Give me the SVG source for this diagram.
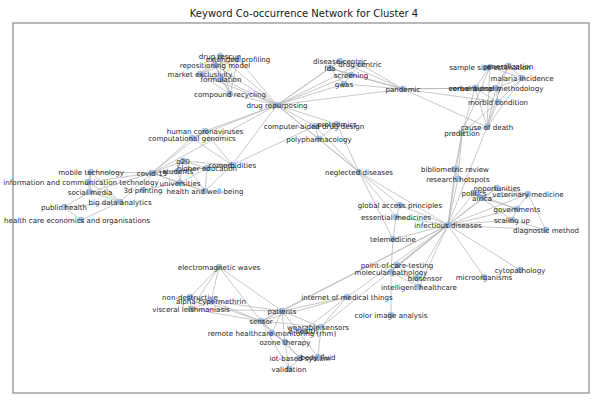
<svg xmlns="http://www.w3.org/2000/svg" width="599" height="403" viewBox="0 0 599 403">
<style>
  .bg { fill: #ffffff; }
  .frame { fill: none; stroke: #8a8a8a; stroke-width: 1.2; }
  .title { font-family: "DejaVu Sans", "Liberation Sans", sans-serif; font-size: 10px; fill: #1a1a1a; text-anchor: middle; }
  #edges line { stroke: #b2b2b2; stroke-width: 0.8; stroke-opacity: 0.9; }
  .node circle { fill: #7fa9dd; fill-opacity: 0.7; }
  .node text { font-family: "DejaVu Sans", "Liberation Sans", sans-serif; font-size: 7.1px; fill: #1e1e1e; text-anchor: middle; dominant-baseline: central; }
</style>
<rect class="bg" x="0" y="0" width="599" height="403"/>
<text class="title" x="304" y="17">Keyword Co-occurrence Network for Cluster 4</text>
<rect class="frame" x="13" y="23" width="576" height="370"/>

<g id="edges">
  <!-- drug repositioning cluster -->
  <line x1="220" y1="56" x2="238" y2="59"/><line x1="220" y1="56" x2="215" y2="65"/><line x1="220" y1="56" x2="200" y2="74"/>
  <line x1="220" y1="56" x2="221" y2="79"/><line x1="220" y1="56" x2="230" y2="94"/><line x1="238" y1="59" x2="215" y2="65"/>
  <line x1="238" y1="59" x2="200" y2="74"/><line x1="238" y1="59" x2="221" y2="79"/><line x1="238" y1="59" x2="230" y2="94"/>
  <line x1="215" y1="65" x2="200" y2="74"/><line x1="215" y1="65" x2="221" y2="79"/><line x1="215" y1="65" x2="230" y2="94"/>
  <line x1="200" y1="74" x2="221" y2="79"/><line x1="200" y1="74" x2="230" y2="94"/><line x1="221" y1="79" x2="230" y2="94"/>
  <line x1="220" y1="56" x2="277" y2="105"/><line x1="238" y1="59" x2="277" y2="105"/><line x1="215" y1="65" x2="277" y2="105"/>
  <line x1="200" y1="74" x2="277" y2="105"/><line x1="221" y1="79" x2="277" y2="105"/><line x1="230" y1="94" x2="277" y2="105"/>
  <!-- drug repurposing to screening cluster and pandemic -->
  <line x1="277" y1="105" x2="340" y2="61"/><line x1="277" y1="105" x2="360" y2="64"/><line x1="277" y1="105" x2="330" y2="68"/>
  <line x1="277" y1="105" x2="351" y2="75"/><line x1="277" y1="105" x2="344" y2="84"/><line x1="277" y1="105" x2="403" y2="89"/>
  <line x1="403" y1="89" x2="340" y2="61"/><line x1="403" y1="89" x2="360" y2="64"/><line x1="403" y1="89" x2="330" y2="68"/>
  <line x1="403" y1="89" x2="351" y2="75"/><line x1="403" y1="89" x2="344" y2="84"/>
  <line x1="340" y1="61" x2="360" y2="64"/><line x1="340" y1="61" x2="330" y2="68"/><line x1="330" y1="68" x2="351" y2="75"/>
  <line x1="351" y1="75" x2="344" y2="84"/><line x1="360" y1="64" x2="351" y2="75"/><line x1="330" y1="68" x2="344" y2="84"/>
  <!-- pandemic to mortality cluster -->
  <line x1="403" y1="89" x2="475" y2="88"/><line x1="403" y1="89" x2="496" y2="88"/><line x1="403" y1="89" x2="487" y2="127"/>
  <line x1="403" y1="89" x2="498" y2="102"/>
  <line x1="490" y1="67" x2="508" y2="66"/><line x1="490" y1="67" x2="522" y2="78"/><line x1="508" y1="66" x2="522" y2="78"/>
  <line x1="475" y1="88" x2="496" y2="88"/><line x1="522" y1="78" x2="496" y2="88"/><line x1="522" y1="78" x2="498" y2="102"/>
  <line x1="496" y1="88" x2="498" y2="102"/><line x1="475" y1="88" x2="498" y2="102"/><line x1="490" y1="67" x2="475" y2="88"/>
  <line x1="508" y1="66" x2="496" y2="88"/>
  <line x1="487" y1="127" x2="490" y2="67"/><line x1="487" y1="127" x2="508" y2="66"/><line x1="487" y1="127" x2="522" y2="78"/>
  <line x1="487" y1="127" x2="475" y2="88"/><line x1="487" y1="127" x2="496" y2="88"/><line x1="487" y1="127" x2="498" y2="102"/>
  <line x1="462" y1="133" x2="490" y2="67"/><line x1="462" y1="133" x2="498" y2="102"/><line x1="462" y1="133" x2="487" y2="127"/>
  <line x1="462" y1="133" x2="475" y2="88"/>
  <line x1="462" y1="133" x2="448" y2="225"/><line x1="487" y1="127" x2="448" y2="225"/>
  <line x1="462" y1="133" x2="455" y2="169"/><line x1="462" y1="133" x2="458" y2="179"/>
  <!-- drug design and neglected diseases -->
  <line x1="277" y1="105" x2="315" y2="126"/><line x1="277" y1="105" x2="337" y2="124"/><line x1="277" y1="105" x2="319" y2="139"/>
  <line x1="277" y1="105" x2="359" y2="172"/><line x1="315" y1="126" x2="337" y2="124"/><line x1="315" y1="126" x2="319" y2="139"/>
  <line x1="337" y1="124" x2="319" y2="139"/><line x1="315" y1="126" x2="359" y2="172"/><line x1="337" y1="124" x2="359" y2="172"/>
  <line x1="319" y1="139" x2="359" y2="172"/>
  <!-- drug repurposing to covid-19 cluster -->
  <line x1="277" y1="105" x2="205" y2="131"/><line x1="277" y1="105" x2="192" y2="138"/><line x1="277" y1="105" x2="152" y2="173"/>
  <line x1="277" y1="105" x2="232" y2="165"/><line x1="205" y1="131" x2="192" y2="138"/><line x1="205" y1="131" x2="152" y2="173"/>
  <line x1="192" y1="138" x2="152" y2="173"/><line x1="205" y1="131" x2="232" y2="165"/><line x1="192" y1="138" x2="232" y2="165"/>
  <line x1="315" y1="126" x2="232" y2="165"/>
  <line x1="152" y1="173" x2="183" y2="161"/><line x1="152" y1="173" x2="178" y2="171"/><line x1="152" y1="173" x2="207" y2="168"/>
  <line x1="152" y1="173" x2="180" y2="183"/><line x1="152" y1="173" x2="205" y2="191"/><line x1="152" y1="173" x2="143" y2="190"/>
  <line x1="152" y1="173" x2="232" y2="165"/><line x1="152" y1="173" x2="91" y2="172"/><line x1="152" y1="173" x2="88" y2="182"/>
  <line x1="152" y1="173" x2="90" y2="192"/><line x1="152" y1="173" x2="120" y2="202"/>
  <line x1="183" y1="161" x2="207" y2="168"/><line x1="183" y1="161" x2="180" y2="183"/><line x1="183" y1="161" x2="205" y2="191"/>
  <line x1="207" y1="168" x2="180" y2="183"/><line x1="207" y1="168" x2="205" y2="191"/><line x1="180" y1="183" x2="205" y2="191"/>
  <line x1="178" y1="171" x2="180" y2="183"/><line x1="178" y1="171" x2="207" y2="168"/><line x1="232" y1="165" x2="207" y2="168"/>
  <line x1="232" y1="165" x2="205" y2="191"/><line x1="183" y1="161" x2="232" y2="165"/><line x1="180" y1="183" x2="143" y2="190"/>
  <line x1="91" y1="172" x2="88" y2="182"/><line x1="91" y1="172" x2="90" y2="192"/><line x1="88" y1="182" x2="90" y2="192"/>
  <line x1="90" y1="192" x2="120" y2="202"/><line x1="88" y1="182" x2="120" y2="202"/><line x1="90" y1="192" x2="64" y2="207"/>
  <line x1="64" y1="207" x2="81" y2="220"/><line x1="120" y1="202" x2="81" y2="220"/><line x1="120" y1="202" x2="64" y2="207"/>
  <line x1="91" y1="172" x2="120" y2="202"/>
  <!-- neglected and infectious diseases -->
  <line x1="359" y1="172" x2="448" y2="225"/><line x1="359" y1="172" x2="400" y2="205"/><line x1="359" y1="172" x2="396" y2="217"/>
  <line x1="359" y1="172" x2="393" y2="239"/><line x1="448" y1="225" x2="400" y2="205"/><line x1="448" y1="225" x2="396" y2="217"/>
  <line x1="448" y1="225" x2="393" y2="239"/><line x1="400" y1="205" x2="396" y2="217"/><line x1="396" y1="217" x2="393" y2="239"/>
  <line x1="448" y1="225" x2="455" y2="169"/><line x1="448" y1="225" x2="458" y2="179"/><line x1="448" y1="225" x2="497" y2="188"/>
  <line x1="448" y1="225" x2="474" y2="193"/><line x1="448" y1="225" x2="482" y2="198"/><line x1="448" y1="225" x2="528" y2="194"/>
  <line x1="448" y1="225" x2="517" y2="209"/><line x1="448" y1="225" x2="512" y2="220"/><line x1="448" y1="225" x2="546" y2="230"/>
  <line x1="448" y1="225" x2="484" y2="277"/><line x1="448" y1="225" x2="520" y2="270"/><line x1="448" y1="225" x2="391" y2="272"/>
  <line x1="448" y1="225" x2="397" y2="265"/><line x1="448" y1="225" x2="417" y2="278"/><line x1="448" y1="225" x2="419" y2="287"/>
  <line x1="448" y1="225" x2="347" y2="297"/><line x1="448" y1="225" x2="282" y2="311"/><line x1="448" y1="225" x2="261" y2="321"/>
  <line x1="448" y1="225" x2="321" y2="327"/>
  <line x1="455" y1="169" x2="458" y2="179"/><line x1="497" y1="188" x2="474" y2="193"/><line x1="497" y1="188" x2="482" y2="198"/>
  <line x1="474" y1="193" x2="482" y2="198"/><line x1="497" y1="188" x2="528" y2="194"/><line x1="482" y1="198" x2="528" y2="194"/>
  <line x1="474" y1="193" x2="517" y2="209"/><line x1="482" y1="198" x2="517" y2="209"/><line x1="517" y1="209" x2="512" y2="220"/>
  <line x1="482" y1="198" x2="512" y2="220"/><line x1="528" y1="194" x2="546" y2="230"/><line x1="528" y1="194" x2="517" y2="209"/>
  <line x1="512" y1="220" x2="546" y2="230"/>
  <!-- diagnostics -->
  <line x1="393" y1="239" x2="391" y2="272"/><line x1="397" y1="265" x2="391" y2="272"/><line x1="391" y1="272" x2="391" y2="315"/>
  <line x1="391" y1="272" x2="417" y2="278"/><line x1="391" y1="272" x2="419" y2="287"/><line x1="417" y1="278" x2="419" y2="287"/>
  <line x1="397" y1="265" x2="419" y2="287"/>
  <line x1="347" y1="297" x2="282" y2="311"/><line x1="347" y1="297" x2="261" y2="321"/><line x1="347" y1="297" x2="321" y2="327"/>
  <line x1="347" y1="297" x2="303" y2="331"/>
  <!-- sensing cluster -->
  <line x1="219" y1="267" x2="190" y2="297"/><line x1="219" y1="267" x2="211" y2="301"/><line x1="219" y1="267" x2="191" y2="309"/>
  <line x1="219" y1="267" x2="261" y2="321"/><line x1="219" y1="267" x2="282" y2="311"/><line x1="190" y1="297" x2="211" y2="301"/>
  <line x1="190" y1="297" x2="191" y2="309"/><line x1="211" y1="301" x2="191" y2="309"/><line x1="190" y1="297" x2="261" y2="321"/>
  <line x1="211" y1="301" x2="261" y2="321"/><line x1="191" y1="309" x2="261" y2="321"/><line x1="191" y1="309" x2="282" y2="311"/>
  <line x1="211" y1="301" x2="282" y2="311"/>
  <line x1="261" y1="321" x2="282" y2="311"/><line x1="261" y1="321" x2="321" y2="327"/><line x1="261" y1="321" x2="272" y2="333"/>
  <line x1="261" y1="321" x2="285" y2="342"/><line x1="261" y1="321" x2="300" y2="358"/><line x1="261" y1="321" x2="289" y2="369"/>
  <line x1="282" y1="311" x2="321" y2="327"/><line x1="282" y1="311" x2="285" y2="342"/><line x1="282" y1="311" x2="318" y2="357"/>
  <line x1="282" y1="311" x2="272" y2="333"/><line x1="321" y1="327" x2="318" y2="357"/><line x1="300" y1="358" x2="318" y2="357"/>
  <line x1="300" y1="358" x2="289" y2="369"/><line x1="285" y1="342" x2="289" y2="369"/><line x1="285" y1="342" x2="300" y2="358"/>
  <line x1="321" y1="327" x2="303" y2="331"/><line x1="272" y1="333" x2="285" y2="342"/>
</g>

<g id="n-drug-rescue" class="node"><circle cx="220" cy="56" r="3.3"/><text x="220" y="56">drug rescue</text></g>
<g id="n-extended-profiling" class="node"><circle cx="238" cy="59" r="3.3"/><text x="238" y="59">extended profiling</text></g>
<g id="n-repositioning-model" class="node"><circle cx="215" cy="65" r="3.3"/><text x="215" y="65">repositioning model</text></g>
<g id="n-market-exclusivity" class="node"><circle cx="200" cy="74" r="3.3"/><text x="200" y="74">market exclusivity</text></g>
<g id="n-formulation" class="node"><circle cx="221" cy="79" r="3.3"/><text x="221" y="79">formulation</text></g>
<g id="n-compound-recycling" class="node"><circle cx="230" cy="94" r="3.3"/><text x="230" y="94">compound recycling</text></g>
<g id="n-drug-repurposing" class="node"><circle cx="277" cy="105" r="3.3"/><text x="277" y="105">drug repurposing</text></g>
<g id="n-disease-centric" class="node"><circle cx="340" cy="61" r="3.3"/><text x="340" y="61">disease-centric</text></g>
<g id="n-drug-centric" class="node"><circle cx="360" cy="64" r="3.3"/><text x="360" y="64">drug-centric</text></g>
<g id="n-fda" class="node"><circle cx="330" cy="68" r="3.3"/><text x="330" y="68">fda</text></g>
<g id="n-screening" class="node"><circle cx="351" cy="75" r="3.3"/><text x="351" y="75">screening</text></g>
<g id="n-gwas" class="node"><circle cx="344" cy="84" r="3.3"/><text x="344" y="84">gwas</text></g>
<g id="n-pandemic" class="node"><circle cx="403" cy="89" r="3.3"/><text x="403" y="89">pandemic</text></g>
<g id="n-sample-size" class="node"><circle cx="490" cy="67" r="3.3"/><text x="490" y="67">sample size estimation</text></g>
<g id="n-generalization" class="node"><circle cx="508" cy="66" r="3.3"/><text x="508" y="66">generalization</text></g>
<g id="n-malaria-incidence" class="node"><circle cx="522" cy="78" r="3.3"/><text x="522" y="78">malaria incidence</text></g>
<g id="n-verbal-autopsy" class="node"><circle cx="475" cy="88" r="3.3"/><text x="475" y="88">verbal autopsy</text></g>
<g id="n-methodology" class="node"><circle cx="496" cy="88" r="3.3"/><text x="496" y="88">conventional methodology</text></g>
<g id="n-morbid-condition" class="node"><circle cx="498" cy="102" r="3.3"/><text x="498" y="102">morbid condition</text></g>
<g id="n-cause-of-death" class="node"><circle cx="487" cy="127" r="3.3"/><text x="487" y="127">cause of death</text></g>
<g id="n-prediction" class="node"><circle cx="462" cy="133" r="3.3"/><text x="462" y="133">prediction</text></g>
<g id="n-computer-aided" class="node"><circle cx="315" cy="126" r="3.3"/><text x="314" y="126">computer-aided drug design</text></g>
<g id="n-proteomics" class="node"><circle cx="337" cy="124" r="3.3"/><text x="337" y="124">proteomics</text></g>
<g id="n-polypharmacology" class="node"><circle cx="319" cy="139" r="3.3"/><text x="319" y="139">polypharmacology</text></g>
<g id="n-neglected-diseases" class="node"><circle cx="359" cy="172" r="3.3"/><text x="359" y="172">neglected diseases</text></g>
<g id="n-human-coronaviruses" class="node"><circle cx="205" cy="131" r="3.3"/><text x="205" y="131">human coronaviruses</text></g>
<g id="n-computational-genomics" class="node"><circle cx="192" cy="138" r="3.3"/><text x="192" y="138">computational genomics</text></g>
<g id="n-g20" class="node"><circle cx="183" cy="161" r="3.3"/><text x="183" y="161">g20</text></g>
<g id="n-comorbidities" class="node"><circle cx="232" cy="165" r="3.3"/><text x="232" y="165">comorbidities</text></g>
<g id="n-higher-education" class="node"><circle cx="207" cy="168" r="3.3"/><text x="207" y="168">higher education</text></g>
<g id="n-students" class="node"><circle cx="178" cy="171" r="3.3"/><text x="178" y="171">students</text></g>
<g id="n-covid-19" class="node"><circle cx="152" cy="173" r="3.3"/><text x="152" y="173">covid-19</text></g>
<g id="n-universities" class="node"><circle cx="180" cy="183" r="3.3"/><text x="180" y="183">universities</text></g>
<g id="n-3d-printing" class="node"><circle cx="143" cy="190" r="3.3"/><text x="143" y="190">3d printing</text></g>
<g id="n-health-well-being" class="node"><circle cx="205" cy="191" r="3.3"/><text x="205" y="191">health and well-being</text></g>
<g id="n-mobile-technology" class="node"><circle cx="91" cy="172" r="3.3"/><text x="91" y="172">mobile technology</text></g>
<g id="n-ict" class="node"><circle cx="88" cy="182" r="3.3"/><text x="81" y="182">information and communication technology</text></g>
<g id="n-social-media" class="node"><circle cx="90" cy="192" r="3.3"/><text x="90" y="192">social media</text></g>
<g id="n-big-data" class="node"><circle cx="120" cy="202" r="3.3"/><text x="120" y="202">big data analytics</text></g>
<g id="n-public-health" class="node"><circle cx="64" cy="207" r="3.3"/><text x="64" y="207">public health</text></g>
<g id="n-health-care-economics" class="node"><circle cx="81" cy="220" r="3.3"/><text x="77" y="220">health care economics and organisations</text></g>
<g id="n-bibliometric-review" class="node"><circle cx="455" cy="169" r="3.3"/><text x="455" y="169">bibliometric review</text></g>
<g id="n-research-hotspots" class="node"><circle cx="458" cy="179" r="3.3"/><text x="458" y="179">research hotspots</text></g>
<g id="n-opportunities" class="node"><circle cx="497" cy="188" r="3.3"/><text x="497" y="188">opportunities</text></g>
<g id="n-politics" class="node"><circle cx="474" cy="193" r="3.3"/><text x="474" y="193">politics</text></g>
<g id="n-africa" class="node"><circle cx="482" cy="198" r="3.3"/><text x="482" y="198">africa</text></g>
<g id="n-veterinary-medicine" class="node"><circle cx="528" cy="194" r="3.3"/><text x="528" y="194">veterinary medicine</text></g>
<g id="n-governments" class="node"><circle cx="517" cy="209" r="3.3"/><text x="517" y="209">governments</text></g>
<g id="n-scaling-up" class="node"><circle cx="512" cy="220" r="3.3"/><text x="512" y="220">scaling up</text></g>
<g id="n-diagnostic-method" class="node"><circle cx="546" cy="230" r="3.3"/><text x="546" y="230">diagnostic method</text></g>
<g id="n-global-access" class="node"><circle cx="400" cy="205" r="3.3"/><text x="400" y="205">global access principles</text></g>
<g id="n-essential-medicines" class="node"><circle cx="396" cy="217" r="3.3"/><text x="396" y="217">essential medicines</text></g>
<g id="n-infectious-diseases" class="node"><circle cx="448" cy="225" r="3.3"/><text x="448" y="225">infectious diseases</text></g>
<g id="n-telemedicine" class="node"><circle cx="393" cy="239" r="3.3"/><text x="393" y="239">telemedicine</text></g>
<g id="n-poct" class="node"><circle cx="397" cy="265" r="3.3"/><text x="397" y="265">point-of-care-testing</text></g>
<g id="n-molecular-pathology" class="node"><circle cx="391" cy="272" r="3.3"/><text x="391" y="272">molecular pathology</text></g>
<g id="n-biosensor" class="node"><circle cx="417" cy="278" r="3.3"/><text x="425" y="278">biosensor</text></g>
<g id="n-intelligent-healthcare" class="node"><circle cx="419" cy="287" r="3.3"/><text x="419" y="287">intelligent healthcare</text></g>
<g id="n-iomt" class="node"><circle cx="347" cy="297" r="3.3"/><text x="347" y="297">internet of medical things</text></g>
<g id="n-color-image" class="node"><circle cx="391" cy="315" r="3.3"/><text x="391" y="315">color image analysis</text></g>
<g id="n-microorganisms" class="node"><circle cx="484" cy="277" r="3.3"/><text x="484" y="277">microorganisms</text></g>
<g id="n-cytopathology" class="node"><circle cx="520" cy="270" r="3.3"/><text x="520" y="270">cytopathology</text></g>
<g id="n-electromagnetic-waves" class="node"><circle cx="219" cy="267" r="3.3"/><text x="219" y="267">electromagnetic waves</text></g>
<g id="n-non-destructive" class="node"><circle cx="190" cy="297" r="3.3"/><text x="190" y="297">non-destructive</text></g>
<g id="n-alpha-cypermethrin" class="node"><circle cx="211" cy="301" r="3.3"/><text x="211" y="301">alpha-cypermethrin</text></g>
<g id="n-visceral-leishmaniasis" class="node"><circle cx="191" cy="309" r="3.3"/><text x="191" y="309">visceral leishmaniasis</text></g>
<g id="n-patients" class="node"><circle cx="282" cy="311" r="3.3"/><text x="282" y="311">patients</text></g>
<g id="n-sensor" class="node"><circle cx="261" cy="321" r="3.3"/><text x="261" y="321">sensor</text></g>
<g id="n-wearable-sensors" class="node"><circle cx="321" cy="327" r="3.3"/><text x="318" y="327">wearable sensors</text></g>
<g id="n-rhm" class="node"><circle cx="272" cy="333" r="3.3"/><text x="272" y="333">remote healthcare monitoring (rhm)</text></g>
<g id="n-e-health" class="node"><circle cx="303" cy="331" r="3.3"/><text x="303" y="331">e-health</text></g>
<g id="n-ozone-therapy" class="node"><circle cx="285" cy="342" r="3.3"/><text x="285" y="342">ozone therapy</text></g>
<g id="n-iot-system" class="node"><circle cx="300" cy="358" r="3.3"/><text x="300" y="358">iot-based system</text></g>
<g id="n-body-fluid" class="node"><circle cx="318" cy="357" r="3.3"/><text x="318" y="357">body fluid</text></g>
<g id="n-validation" class="node"><circle cx="289" cy="369" r="3.3"/><text x="289" y="369">validation</text></g>
</svg>
